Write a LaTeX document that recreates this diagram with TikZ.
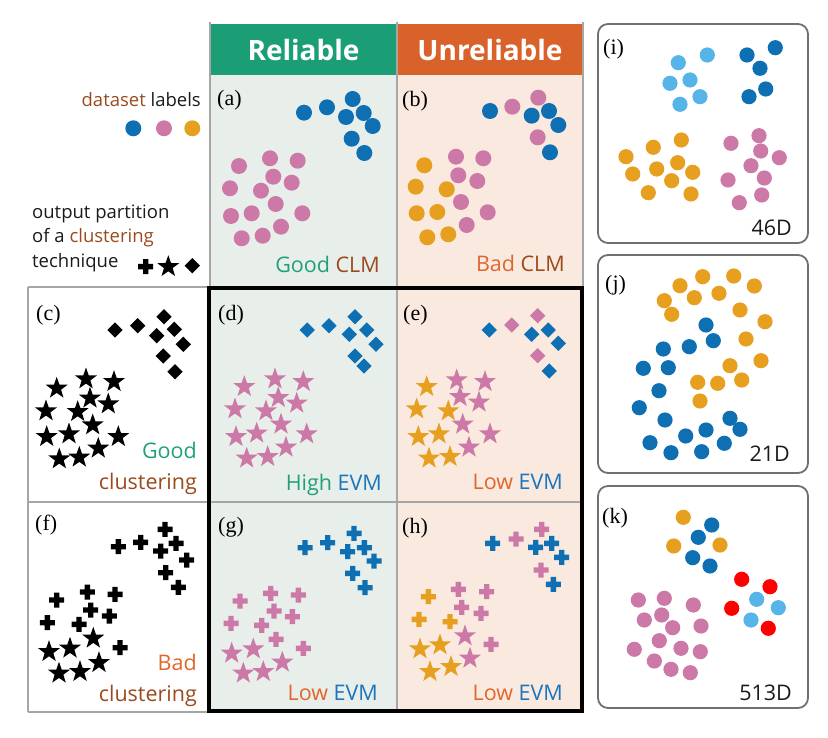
\documentclass[tikz,border=0pt]{standalone}
\usepackage{fontspec}
\setmainfont{Open Sans}
\newfontfamily\lser{Liberation Serif}
\usetikzlibrary{shapes.geometric}
\definecolor{cblue}{HTML}{0F6FB3}
\definecolor{cpink}{HTML}{CC79A7}
\definecolor{corange}{HTML}{E69F1E}
\definecolor{clight}{HTML}{56B4E9}
\definecolor{cred}{HTML}{FF0000}
\definecolor{hgreen}{HTML}{1B9E75}
\definecolor{horange}{HTML}{D9612A}
\definecolor{tgreen}{HTML}{20A07A}
\definecolor{torange}{HTML}{E0662C}
\definecolor{tbrown}{HTML}{9B4A1C}
\definecolor{tblue}{HTML}{1B75BC}
\definecolor{bgA}{HTML}{E8EEEA}
\definecolor{bgB}{HTML}{FAE9DF}
\definecolor{cgrid}{HTML}{A6A6A6}
\definecolor{cborder}{HTML}{707070}
\definecolor{ctext}{HTML}{1A1A1A}
\newcommand\mdots[3][8pt]{\foreach \p in {#3} \fill[#2] \p circle[radius=#1];}
\newcommand\mstars[2]{\foreach \p in {#2} \node[starm,fill=#1] at \p {};}
\newcommand\mdias[2]{\foreach \p in {#2} \node[diam,fill=#1] at \p {};}
\newcommand\mplus[2]{\foreach \p in {#2} \fill[#1,shift={\p}] (-7.5pt,-2.7pt) rectangle (7.5pt,2.7pt) (-2.7pt,-7.5pt) rectangle (2.7pt,7.5pt);}
\begin{document}
\begin{tikzpicture}[x=1pt,y=-1pt,
  lab/.style={inner sep=0, text=ctext, font=\fontsize{21.5}{25}\selectfont},
  leg/.style={inner sep=0, text=ctext, font=\fontsize{18.5}{22}\selectfont},
  plab/.style={inner sep=0, anchor=base west, text=black, font=\lser\fontsize{22}{26}\selectfont},
  hdr/.style={inner sep=0, anchor=base, text=white, font=\fontsize{28}{32}\selectfont\bfseries},
  starm/.style={star, star points=5, star point ratio=2.5, minimum size=23pt, inner sep=0},
  diam/.style={diamond, minimum width=15.5pt, minimum height=15.5pt, inner sep=0},
  gridl/.style={draw=cgrid, line width=2.4pt},
  rpanel/.style={draw=cborder, line width=1.8pt, rounded corners=10pt},
]
\useasboundingbox (0,0) rectangle (828,738);
% backgrounds
\fill[bgA] (210,75) rectangle (397,712);
\fill[bgB] (397,75) rectangle (583,712);
% headers
\fill[hgreen] (210,24) rectangle (397,75);
\fill[horange] (397,24) rectangle (583,75);
\node[hdr] (hrel) at (303.5,60.5) {Reliable};
\node[hdr] (hunr) at (490,60.5) {Unreliable};
% grid
\draw[gridl] (210,22) -- (210,712);
\draw[gridl] (397,22) -- (397,712);
\draw[gridl] (583,22) -- (583,712);
\draw[gridl] (28,287) -- (583,287);
\draw[gridl] (28,502) -- (583,502);
\draw[gridl] (28,712) -- (583,712);
\draw[gridl] (28,287) -- (28,712);
\draw[line width=4pt] (209,288) rectangle (582,711);
% right panels
\draw[rpanel] (598,24) rectangle (808,243);
\draw[rpanel] (598,255) rectangle (808,473);
\draw[rpanel] (598,486) rectangle (808,708);
% legend
\node[leg, anchor=base east] (dl) at (201,107) {\textcolor{tbrown}{dataset} labels};
\fill[cblue] (133.3,128.3) circle[radius=8pt];
\fill[cpink] (164,128.3) circle[radius=8pt];
\fill[corange] (192.3,128.3) circle[radius=8pt];
\node[leg, anchor=base west] (op1) at (32,219) {output partition};
\node[leg, anchor=base west] (op2) at (32,243) {of a \textcolor{tbrown}{clustering}};
\node[leg, anchor=base west] (op3) at (32,268) {technique};
\mplus{black}{(145.7,266.7)}
\mstars{black}{(168.3,266.7)}
\mdias{black}{(192.3,265.7)}
% panel labels
\node[plab] (la) at (217,106) {(a)};
\node[plab] (lb) at (402,107) {(b)};
\node[plab] (lc) at (36,321) {(c)};
\node[plab] (ld) at (218,321) {(d)};
\node[plab] (le) at (403,321) {(e)};
\node[plab] (lf) at (35,530) {(f)};
\node[plab] (lg) at (218,532) {(g)};
\node[plab] (lh) at (402,533) {(h)};
\node[plab] (li) at (603,55) {(i)};
\node[plab] (lj) at (605,291) {(j)};
\node[plab] (lk) at (602,523) {(k)};
% captions
\node[lab, anchor=base east] (ca) at (380,273) {\textcolor{tgreen}{Good} \textcolor{tbrown}{CLM}};
\node[lab, anchor=base east] (cb) at (565,272) {\textcolor{torange}{Bad} \textcolor{tbrown}{CLM}};
\node[lab, anchor=base east] (cc1) at (197,458) {\textcolor{tgreen}{Good}};
\node[lab, anchor=base east] (cc2) at (197,489) {\textcolor{tbrown}{clustering}};
\node[lab, anchor=base east] (cd) at (382,490) {\textcolor{tgreen}{High} \textcolor{tblue}{EVM}};
\node[lab, anchor=base east] (ce) at (563,489) {\textcolor{torange}{Low} \textcolor{tblue}{EVM}};
\node[lab, anchor=base east] (cf1) at (197,670) {\textcolor{torange}{Bad}};
\node[lab, anchor=base east] (cf2) at (197,701.5) {\textcolor{tbrown}{clustering}};
\node[lab, anchor=base east] (cg) at (378,700) {\textcolor{torange}{Low} \textcolor{tblue}{EVM}};
\node[lab, anchor=base east] (ch) at (563,700) {\textcolor{torange}{Low} \textcolor{tblue}{EVM}};
\node[lab, anchor=base east] (ci) at (792,236) {46D};
\node[lab, anchor=base east] (cj) at (790,461.7) {21D};
\node[lab, anchor=base east] (ck) at (792,700.7) {513D};
% (a)
\mdots{cblue}{(304,112.7),(327,107.3),(352.7,99),(346,117),(363.7,113),(372.7,126),(351.7,138.7),(364.3,153)}
\mdots{cpink}{(239,166),(270,158.3),(297.7,160.7),(273.3,176.7),(291.7,182.7),(230,188.3),(261,190.7),(275.7,204),(231,216),(251.7,213.3),(302.3,213.3),(281,226.7),(241.7,238.3),(262.7,235.7)}
% (b)
\mdots{cblue}{(490,111),(531.7,115.7),(549,111),(558.3,125),(550,152.3)}
\mdots{cpink}{(512.3,106.7),(538.3,97.7),(537.7,137.3),(456,156.7),(483.3,158.3),(458.3,175.3),(477.3,181),(461,202),(487.7,212.3),(466.7,225)}
\mdots{corange}{(424.3,165.3),(415.7,186.7),(446.7,189.3),(416.7,213.3),(437.3,212),(427.3,237.3),(448.3,234.3)}
% (c)
\mdias{black}{(115,330),(137.7,325.7),(164,316.7),(156.7,335.7),(174.3,329.3),(183.3,344.3),(163.3,356),(175,371.7)}
\mstars{black}{(56.7,388.3),(86,379),(114,381.7),(90,398.3),(108.3,404),(46,411),(77.7,411.7),(92.7,425),(46.7,436.7),(69,434),(118.3,436.7),(98.3,448.3),(59.3,459),(79.3,457.3)}
% (d)
\mdias{cblue}{(307.3,330),(329,325.7),(355,316.7),(349.3,334.3),(366.7,330),(376,344.3),(355,356),(364,366)}
\mstars{cpink}{(244.3,386.7),(275,379),(303.3,381.7),(278.3,397.7),(296.7,403.3),(235,409),(266,411),(281,424.3),(236,436.7),(256.7,433.3),(306.7,434),(286,447.3),(246.7,458.3),(267.7,456.7)}
% (e)
\mdias{cblue}{(489.3,330),(531.7,334.3),(548.3,330),(558.3,343.3),(549.3,371)}
\mdias{cpink}{(511.7,325),(537.7,315.7),(537.7,355.7)}
\mstars{corange}{(426.7,386.7),(416.7,409),(448.3,411),(418.3,436.7),(439,434),(429,458.3),(450,456.7)}
\mstars{cpink}{(456.7,380),(485,381.7),(460,396.7),(479,402.3),(462.7,424.3),(490,434),(469,447.3)}
% (f)
\mplus{black}{(118.3,546.7),(140.7,542.3),(165,529.3),(160.7,551),(176,543.3),(186.7,560),(165.7,572.7),(178.3,587.3)}
\mplus{black}{(56.7,600),(87.3,592),(115,594.3),(90.7,610),(109.3,616),(47.3,622.7),(79,624.3),(120,647.7)}
\mstars{black}{(93.3,638.3),(49,651.7),(70,648.3),(99,662.7),(59,673.3),(80,671.7)}
% (g)
\mplus{cblue}{(305,547.7),(327.7,542.7),(354,533.3),(347.7,551.7),(364.3,547.7),(374,561),(352.7,573.3),(365,587.7)}
\mplus{cpink}{(240,601),(270.7,593.3),(298.3,595),(274,611),(292.3,616.7),(231,623.3),(261.7,625.3),(276,639.3),(303.3,648.3)}
\mstars{cpink}{(231.7,653.3),(253.3,649),(282.3,662.3),(243.3,673.3),(263.3,671.7)}
% (h)
\mplus{cblue}{(492.7,543.3),(535.7,547.3),(551.7,543.3),(561.7,557.3),(553.3,584.3)}
\mplus{cpink}{(516,539),(541.7,529.3),(541,570)}
\mplus{corange}{(428.3,596.7),(419,619.3),(450,621.7)}
\mplus{cpink}{(458.3,589.3),(486.7,591.7),(461.7,607.3),(481,613.3),(491,644.3)}
\mstars{cpink}{(465,636),(470,658.3)}
\mstars{corange}{(420,649),(440,645),(430,671.7),(451,666.7)}
% (i)
\mdots[7.6pt]{clight}{(707.3,55),(678.3,62.7),(670,83.3),(690,80),(700,96.7),(680,104.3)}
\mdots[7.6pt]{cblue}{(747,55),(775.3,47.7),(760,68.3),(765.7,89),(749,96.7)}
\mdots[7.6pt]{corange}{(681.3,140),(653.3,147.3),(626,156.7),(677.7,162.7),(656.7,169),(632.7,174),(692.7,172.3),(671.7,180.7),(648.3,192.7),(691,194)}
\mdots[7.6pt]{cpink}{(731,143.3),(759,135.7),(760.7,151),(779.3,157.7),(751,165.7),(728,180),(764.3,178),(761.7,195),(739.3,202.7)}
% (j)
\mdots[7.6pt]{corange}{(680,285.7),(702.7,276.7),(733.7,276),(754.3,286),(664.3,300.7),(694.3,297.7),(719,293.3),(671.7,314.3),(740,310),(765,321.7),(746,339),(761,360.7),(730,365.7),(697.7,382.3),(717.7,383.3),(741.7,380),(700,401)}
\mdots[7.6pt]{cblue}{(706,325),(713.3,340.7),(689.3,346.7),(663.3,349),(668.3,367.7),(643.3,368.3),(659,390.7),(639.3,407.7),(665,420),(730,418.3),(740,429.3),(706,430),(685.7,436),(724.3,443.3),(650,442.7),(671,452.7),(701.7,451.7)}
% (k)
\mdots[7.6pt]{corange}{(683.3,517.3),(673.7,546),(720,545)}
\mdots[7.6pt]{cblue}{(711.7,525),(698.3,537.3),(692.7,557.7),(710,566)}
\mdots[7.6pt]{cred}{(741.7,579.3),(770,586.7),(731.7,608.3),(768.3,628.3)}
\mdots[7.6pt]{clight}{(756.7,599.3),(778.3,607.7),(751,620)}
\mdots[7.6pt]{cpink}{(638.3,600),(664.3,598.3),(693.3,605),(644.3,620),(661.7,615),(672.7,627.7),(701,626),(659.3,640.7),(634.3,649.3),(681,648.3),(700.3,651.7),(654.3,661),(671,669.3),(690.3,672.7)}
\end{tikzpicture}
\end{document}
